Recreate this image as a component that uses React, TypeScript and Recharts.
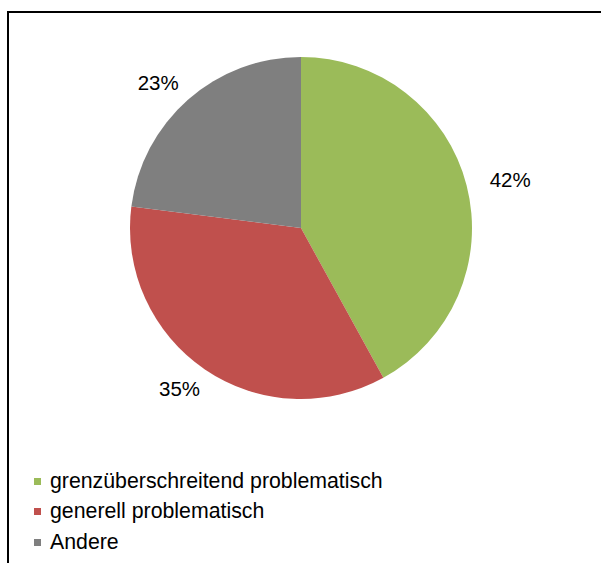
import React from 'react';
import { PieChart, Pie, Cell, Legend } from 'recharts';

const categories = ['grenzüberschreitend problematisch', 'generell problematisch', 'Andere'];
const shares = [42, 35, 23];
const colors = ['#9BBB59', '#C0504D', '#7F7F7F'];

const data = categories.map((name, i) => ({ name, value: shares[i] }));

const FONT = '"Liberation Sans", Arial, sans-serif';
const RADIAN = Math.PI / 180;

const renderLabel = (props: any) => {
  const { cx, cy, midAngle, outerRadius, value } = props;
  const rx = outerRadius + 45;
  const ry = outerRadius + 23;
  const x = cx + rx * Math.cos(-midAngle * RADIAN);
  const y = cy + ry * Math.sin(-midAngle * RADIAN);
  return (
    <text x={x} y={y} fill="#000" fontSize={20.5} fontFamily={FONT} textAnchor="middle" dominantBaseline="central">
      {`${value}%`}
    </text>
  );
};

const renderLegend = () => (
  <div style={{ fontFamily: FONT, fontSize: 21.3, color: '#000' }}>
    {categories.map((c, i) => (
      <div key={c} style={{ display: 'flex', alignItems: 'center', height: 30.5 }}>
        <span style={{ display: 'inline-block', width: 7, height: 7, background: colors[i], marginRight: 9 }} />
        <span>{c}</span>
      </div>
    ))}
  </div>
);

export default function App() {
  return (
    <div style={{ position: 'absolute', left: 0, top: 0, width: 601, height: 563, background: '#fff', overflow: 'hidden' }}>
      <div style={{ position: 'absolute', left: 7, top: 11, width: 700, height: 700, borderLeft: '2px solid #000', borderTop: '2px solid #000' }} />
      <div style={{ position: 'absolute', left: 0, top: 0 }}>
        <PieChart width={601} height={563} margin={{ top: 0, right: 0, bottom: 0, left: 0 }}>
          <Pie
            data={data}
            dataKey="value"
            nameKey="name"
            cx={301}
            cy={228}
            outerRadius={171}
            startAngle={90}
            endAngle={-270}
            stroke="none"
            label={renderLabel}
            labelLine={false}
            isAnimationActive={false}
          >
            {data.map((d, i) => (
              <Cell key={d.name} fill={colors[i]} />
            ))}
          </Pie>
          <Legend
            layout="horizontal"
            verticalAlign="bottom"
            align="left"
            content={renderLegend}
            wrapperStyle={{ left: 34, top: 466, bottom: 'auto', width: 'auto', height: 'auto' }}
          />
        </PieChart>
      </div>
    </div>
  );
}
